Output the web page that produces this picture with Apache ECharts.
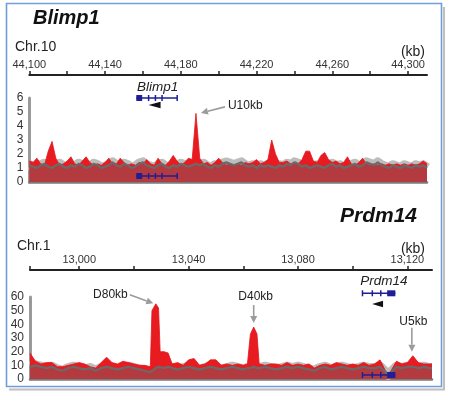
<!DOCTYPE html>
<html><head><meta charset="utf-8">
<script src="https://cdn.jsdelivr.net/npm/echarts@6/dist/echarts.min.js"></script>
<style>html,body{margin:0;padding:0;background:#fff}#c{width:450px;height:395px}</style>
</head><body><div id="c"></div>
<script>
// ================= DATA =================
// --- Blimp1 panel (Chr.10, kb) ---
const blimpRange = [44100, 44310];
const blimpTicks = [44100,44120,44140,44160,44180,44200,44220,44240,44260,44280,44300];
const blimpTickLabels = [44100,44140,44180,44220,44260,44300];
const blimpPos = [44100,44102,44104,44106,44108,44110,44112,44114,44116,44118,
  44120,44122,44124,44126,44128,44130,44132,44134,44136,44138,
  44140,44142,44144,44146,44148,44150,44152,44154,44156,44158,
  44160,44162,44164,44166,44168,44170,44172,44174,44176,44178,
  44180,44182,44184,44186,44188,44190,44192,44194,44196,44198,
  44200,44202,44204,44206,44208,44210,44212,44214,44216,44218,
  44220,44222,44224,44226,44228,44230,44232,44234,44236,44238,
  44240,44242,44244,44246,44248,44250,44252,44254,44256,44258,
  44260,44262,44264,44266,44268,44270,44272,44274,44276,44278,
  44280,44282,44284,44286,44288,44290,44292,44294,44296,44298,
  44300,44302,44304,44306,44308,44310];
const blimpChip = [1.5,1.4,1.7,1.3,1.2,2.2,2.9,1.7,1.2,1.3,
  1.5,1.8,1.3,1.2,1.5,1.8,1.4,1.2,1.3,1.2,
  1.4,1.7,1.3,1.3,1.7,1.4,1.2,1.3,1.2,1.4,
  1.3,1.6,1.3,1.2,1.7,1.3,1.2,1.5,1.9,1.5,
  1.2,1.4,1.7,1.6,4.9,1.7,1.3,1.4,1.2,1.4,
  1.7,1.4,1.2,1.3,1.2,1.3,1.2,1.4,1.3,1.4,
  1.6,1.3,1.4,1.6,3.0,2.0,1.4,1.4,1.5,1.3,
  1.4,1.3,1.6,2.2,2.2,1.5,1.4,1.9,2.1,1.6,
  1.4,1.5,1.3,1.4,1.8,1.3,1.2,1.4,1.7,1.3,
  1.2,1.3,1.2,1.3,1.2,1.3,1.2,1.3,1.2,1.3,
  1.2,1.3,1.2,1.3,1.5,1.3];
const blimpInput = [1.2,1.1,1.0,1.2,1.3,1.1,1.0,1.2,1.3,1.1,
  1.0,1.2,1.1,1.3,1.2,1.0,1.1,1.3,1.2,1.0,
  1.1,1.2,1.4,1.2,1.1,1.3,1.2,1.0,1.1,1.3,
  1.4,1.2,1.1,1.0,1.2,1.3,1.1,1.0,1.2,1.1,
  1.3,1.2,1.1,1.2,1.3,1.2,1.3,1.1,1.0,1.2,
  1.1,1.3,1.4,1.3,1.2,1.3,1.4,1.2,1.1,1.2,
  1.0,1.2,1.1,1.2,1.1,1.0,1.2,1.1,1.3,1.2,
  1.4,1.3,1.1,1.2,1.0,1.1,1.2,1.1,1.0,1.2,
  1.3,1.1,1.2,1.0,1.1,1.2,1.3,1.1,1.2,1.4,
  1.3,1.2,1.4,1.2,1.1,1.0,1.2,1.1,1.0,1.2,
  1.1,1.0,1.2,1.1,1.2,1.0];
const blimpGene = {name:'Blimp1', start:44156.5, end:44178, labelKb:44167.7,
  exons:[[44156.5,44159.6],[44162.6,44162.9],[44166.2,44166.5],[44169.7,44170.0],[44177.7,44178]],
  dirFrom:44163, dirTo:44169.3};
const blimpPeaks = [{kb:44188, value:4.9, label:'U10kb'}];

// --- Prdm14 panel (Chr.1, kb) ---
const prdmRange = [12982, 13129];
const prdmTicks = [12982,13000,13020,13040,13060,13080,13100,13120];
const prdmTickLabels = [13000,13040,13080,13120];
const prdmPos = [12982,12984,12986,12988,12990,12992,12994,12996,12998,13000,
  13002,13004,13006,13008,13010,13012,13014,13016,13018,13020,
  13022,13024,13026,13026.6,13028,13029,13029.6,13031,13032.5,13034,
  13036,13038,13040,13042,13044,13046,13048,13050,13052,13054,
  13056,13058,13060,13061.5,13062.6,13063.8,13065,13065.8,13068,13070,
  13072,13074,13076,13078,13080,13082,13084,13086,13088,13090,
  13092,13094,13096,13098,13100,13102,13104,13106,13108,13110,
  13112,13113,13114,13116,13118,13120,13122,13124,13126,13128,
  13129];
const prdmChip = [19,13,11,12,12,9,9,10,11,12,
  11,9,8,12,16,12,11,13,12,11,
  10,10,9,50,55,52,20,20,19,11,
  12,10,14,15,10,11,14,14,10,11,
  10,11,10,11,33,38,33,11,10,11,
  11,10,12,10,11,10,11,8,10,11,
  10,12,11,10,11,10,12,10,11,14,
  6,4,6,13,11,12,17,12,11,11,
  11];
const prdmInput = [9,10,9,8,9,7,6,8,9,8,
  7,8,6,8,9,8,7,8,9,8,
  7,6,5,6,8,9,9,8,9,8,
  7,8,9,8,7,8,9,8,7,8,
  9,8,7,8,8,9,8,8,9,8,
  7,8,9,8,9,8,7,6,8,9,
  7,8,9,8,7,8,9,8,8,9,
  5,3,5,9,8,9,9,8,9,8,
  8];
const prdmGene = {name:'Prdm14', start:13103.4, end:13115.6, labelKb:13111.4,
  exons:[[13103.3,13103.6],[13106.9,13107.2],[13110,13110.3],[13112.6,13115.6]],
  dirFrom:13107.1, dirTo:13111.1};
const prdmPeaks = [{kb:13028, value:55, label:'D80kb'},{kb:13063.8, value:38, label:'D40kb'},{kb:13122, value:17, label:'U5kb'}];

// ================= STYLE =================
const FONT = '"Liberation Sans", Arial, Helvetica, sans-serif';
const GENE_COLOR = '#1e1e96';
const annotOffsets = {
  'U10kb': {tip:[5,-0.5], tail:[29,-6.5], text:[32,-7.5], align:'left'},
  'D80kb': {tip:[-2.5,-0.5], tail:[-26,-9], text:[-28,-9.5], align:'right'},
  'D40kb': {tip:[0,-4], tail:[0,-22], text:[2,-30], align:'center'},
  'U5kb':  {tip:[-1,-4], tail:[-1,-28], text:[0.5,-34], align:'center'}
};
const geneStyle = {
  top: {trackDy:0, labelDy:-11, arrowDy:7, innerDy:-6, arrowH:3.2},
  bottom: {trackDy:-3.7, labelDy:-11.6, arrowDy:10.7, innerDy:-4, arrowH:3.2}
};
const fmt = v => String(v).replace(/\B(?=(\d{3})+(?!\d))/g, ',');

function genomeAxis(gridIndex, range, ticks, labels) {
  return {type:'value', gridIndex, min:range[0], max:range[1], position:'bottom',
    axisLine:{show:true, lineStyle:{color:'#222', width:2}},
    axisTick:{show:true, inside:true, length:4, customValues:ticks, lineStyle:{color:'#222', width:1.5}},
    axisLabel:{show:true, inside:true, margin:5, customValues:labels, formatter:fmt,
      fontSize:11, color:'#333', fontFamily:FONT},
    splitLine:{show:false}};
}
function areaXAxis(gridIndex, range) {
  return {type:'value', gridIndex, min:range[0], max:range[1],
    axisLine:{show:true, onZero:false, lineStyle:{color:'#7b7b7b', width:2.5}},
    axisTick:{show:false}, axisLabel:{show:false}, splitLine:{show:false}};
}
function areaYAxis(gridIndex, max, interval) {
  return {type:'value', gridIndex, min:0, max, interval,
    axisLine:{show:true, lineStyle:{color:'#9a9a9a', width:3}},
    axisTick:{show:false},
    axisLabel:{show:true, margin:6, fontSize:12, color:'#333', fontFamily:FONT},
    splitLine:{show:false}};
}
function tracks(pos, chip, input, ai) {
  const cd = pos.map((p,i)=>[p, chip[i]]);
  const id = pos.map((p,i)=>[p, input[i]]);
  const base = {type:'line', xAxisIndex:ai, yAxisIndex:ai, symbol:'none', silent:true, animation:false};
  return [
    Object.assign({}, base, {data:id, z:1, lineStyle:{color:'#bdbdbd', width:10, join:'round'}}),
    Object.assign({}, base, {data:cd, z:2, lineStyle:{color:'#e3161c', width:0.8}, areaStyle:{color:'#e81b21', opacity:1}}),
    Object.assign({}, base, {data:id, z:3, lineStyle:{color:'#6a6a6a', width:2.2, join:'round'}, areaStyle:{color:'rgba(105,105,105,0.42)', opacity:1}})
  ];
}
function geneSeries(gene, ai, st) {
  return {type:'custom', xAxisIndex:ai, yAxisIndex:ai, z:10, silent:true,
    data:[[gene.start, gene.end]],
    renderItem(params, api) {
      const cs = params.coordSys;
      const X = kb => api.coord([kb, 0])[0];
      const ch = [];
      const model = yc => {
        ch.push({type:'line', shape:{x1:X(gene.start), y1:yc, x2:X(gene.end), y2:yc}, style:{stroke:GENE_COLOR, lineWidth:1.6}});
        gene.exons.forEach(([a,b]) => {
          const x1 = X(a), w = Math.max(X(b)-x1, 1.5);
          ch.push({type:'rect', shape:{x:x1, y:yc-3, width:w, height:6}, style:{fill:GENE_COLOR}});
        });
      };
      const ty = cs.y + st.trackDy;
      model(ty);
      model(cs.y + cs.height + st.innerDy);
      ch.push({type:'text', x:X(gene.labelKb), y:ty + st.labelDy,
        style:{text:gene.name, fontSize:13.5, fontStyle:'italic', fontFamily:FONT, fill:'#222', align:'center', verticalAlign:'middle'}});
      const ay = ty + st.arrowDy;
      ch.push({type:'polygon', shape:{points:[[X(gene.dirFrom), ay],[X(gene.dirTo), ay-st.arrowH],[X(gene.dirTo), ay+st.arrowH]]}, style:{fill:'#111'}});
      return {type:'group', children:ch};
    }};
}
function annotSeries(peaks, ai) {
  return {type:'custom', xAxisIndex:ai, yAxisIndex:ai, z:11, silent:true,
    data: peaks.map(p => [p.kb, p.value]),
    renderItem(params, api) {
      const p = peaks[params.dataIndex];
      const o = annotOffsets[p.label];
      const c = api.coord([api.value(0), api.value(1)]);
      const tip = [c[0]+o.tip[0], c[1]+o.tip[1]], tail = [c[0]+o.tail[0], c[1]+o.tail[1]];
      const ang = Math.atan2(tip[1]-tail[1], tip[0]-tail[0]);
      const L = 7, W = 3.5;
      const bx = tip[0]-L*Math.cos(ang), by = tip[1]-L*Math.sin(ang);
      const px = -Math.sin(ang)*W, py = Math.cos(ang)*W;
      return {type:'group', children:[
        {type:'line', shape:{x1:tail[0], y1:tail[1], x2:bx, y2:by}, style:{stroke:'#9b9b9b', lineWidth:1.6}},
        {type:'polygon', shape:{points:[tip,[bx+px,by+py],[bx-px,by-py]]}, style:{fill:'#9b9b9b'}},
        {type:'text', x:c[0]+o.text[0], y:c[1]+o.text[1],
          style:{text:p.label, fontSize:12, fontFamily:FONT, fill:'#222', align:o.align, verticalAlign:'middle'}}
      ]};
    }};
}
const hiddenY = gi => ({type:'value', gridIndex:gi, show:false, min:0, max:1});

const chart = echarts.init(document.getElementById('c'), null, {renderer:'canvas'});
chart.setOption({
  animation:false,
  backgroundColor:'#ffffff',
  textStyle:{fontFamily:FONT},
  grid:[
    {left:29.3, width:397.7, top:74, height:1},
    {left:29.3, width:397.7, top:98, height:84},
    {left:30, width:402, top:269, height:1},
    {left:30, width:402, top:297, height:82}
  ],
  xAxis:[
    genomeAxis(0, blimpRange, blimpTicks, blimpTickLabels),
    areaXAxis(1, blimpRange),
    genomeAxis(2, prdmRange, prdmTicks, prdmTickLabels),
    areaXAxis(3, prdmRange)
  ],
  yAxis:[hiddenY(0), areaYAxis(1, 6, 1), hiddenY(2), areaYAxis(3, 60, 10)],
  series:[].concat(
    tracks(blimpPos, blimpChip, blimpInput, 1),
    tracks(prdmPos, prdmChip, prdmInput, 3),
    [geneSeries(blimpGene, 1, geneStyle.top), geneSeries(prdmGene, 3, geneStyle.bottom),
     annotSeries(blimpPeaks, 1), annotSeries(prdmPeaks, 3)]
  ),
  graphic:[
    {type:'polyline', silent:true, z:99, shape:{points:[[444,7],[444,389.5],[9,389.5]]},
      style:{fill:null, stroke:'rgba(0,0,0,0.22)', lineWidth:2, shadowBlur:2, shadowColor:'rgba(0,0,0,0.25)'}},
    {type:'rect', silent:true, z:100, shape:{x:6.5, y:3.5, width:435, height:383},
      style:{fill:null, stroke:'#6f9ed8', lineWidth:1.6}},
    {type:'text', x:33, y:18.5, style:{text:'Blimp1', fontSize:20, fontWeight:'bold', fontStyle:'italic', fontFamily:FONT, fill:'#111', align:'left', verticalAlign:'middle'}},
    {type:'text', x:15, y:47.5, style:{text:'Chr.10', fontSize:14, fontFamily:FONT, fill:'#222', align:'left', verticalAlign:'middle'}},
    {type:'text', x:425, y:52.5, style:{text:'(kb)', fontSize:14, fontFamily:FONT, fill:'#222', align:'right', verticalAlign:'middle'}},
    {type:'text', x:417, y:216, style:{text:'Prdm14', fontSize:21, fontWeight:'bold', fontStyle:'italic', fontFamily:FONT, fill:'#111', align:'right', verticalAlign:'middle'}},
    {type:'text', x:17, y:246.5, style:{text:'Chr.1', fontSize:14, fontFamily:FONT, fill:'#222', align:'left', verticalAlign:'middle'}},
    {type:'text', x:425, y:249, style:{text:'(kb)', fontSize:14, fontFamily:FONT, fill:'#222', align:'right', verticalAlign:'middle'}}
  ]
});
</script></body></html>
